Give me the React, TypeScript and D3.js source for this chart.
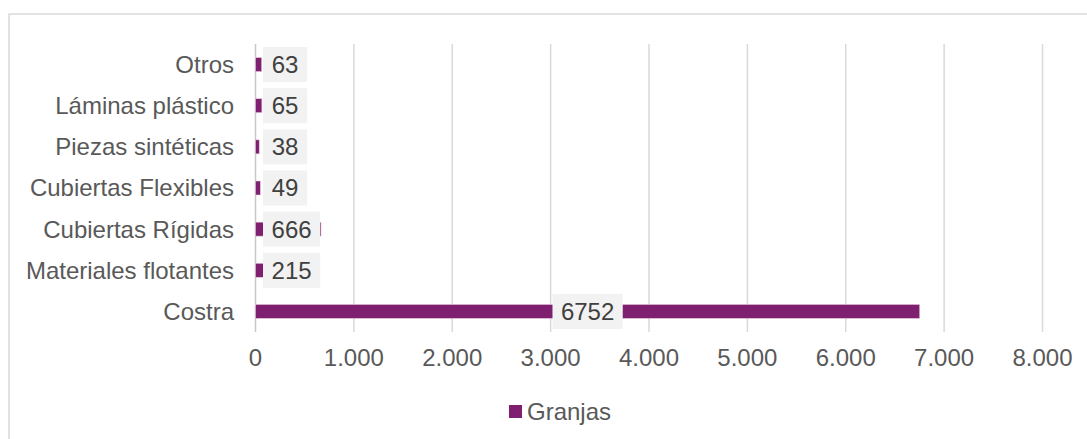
import React from 'react';
import * as d3 from 'd3';

const categories = ['Otros', 'Láminas plástico', 'Piezas sintéticas', 'Cubiertas Flexibles', 'Cubiertas Rígidas', 'Materiales flotantes', 'Costra'];
const values = [63, 65, 38, 49, 666, 215, 6752];
const ticks = [0, 1000, 2000, 3000, 4000, 5000, 6000, 7000, 8000];
const seriesName = 'Granjas';

const width = 1087;
const height = 439;
const font = 'Liberation Sans';
const fontSize = 24;
const purple = '#7E1F6F';
const textColor = '#595959';

const App = () => {
  const x = d3.scaleLinear().domain([0, 8000]).range([255.5, 1042.5]);
  const y = d3.scaleBand().domain(categories).range([44, 332]).paddingInner(0.66).paddingOuter(0.33);
  const fmt = (v: number) => d3.format(',d')(v).replace(/,/g, '.');
  const charW = 23.5 * 0.556;

  return (
    <svg width={width} height={height} style={{ position: 'absolute', left: 0, top: 0 }} fontFamily={font}>
      <rect x={0} y={0} width={width} height={height} fill="#fff" />
      <rect x={9} y={14} width={1200} height={600} fill="none" stroke="#d9d9d9" strokeWidth={1.5} />
      {ticks.map((t) => (
        <g key={t}>
          <line x1={x(t)} x2={x(t)} y1={44} y2={332} stroke={t === 0 ? '#c8c8c8' : '#d9d9d9'} strokeWidth={1.5} />
          <text x={x(t)} y={366} textAnchor="middle" fontFamily={font} fontSize={fontSize} fill={textColor}>{fmt(t)}</text>
        </g>
      ))}
      {categories.map((c, i) => {
        const cy = (y(c) as number) + y.bandwidth() / 2;
        const v = values[i];
        const label = String(v);
        const bw = label.length * charW + 18;
        const center = (x(0) + x(v)) / 2;
        const bx = Math.max(center - bw / 2, x(0) + 7.5);
        return (
          <g key={c}>
            <text x={234} y={cy} dy="0.35em" textAnchor="end" fontFamily={font} fontSize={fontSize} fill={textColor}>{c}</text>
            <rect x={x(0)} y={(y(c) as number)} width={x(v) - x(0)} height={y.bandwidth()} fill={purple} stroke="#e8c8e0" strokeWidth={0.6} />
            <rect x={bx} y={cy - 17.5} width={bw} height={35} fill="#f2f2f2" />
            <text x={bx + bw / 2} y={cy} dy="0.35em" textAnchor="middle" fontFamily={font} fontSize={fontSize} fill="#404040">{label}</text>
          </g>
        );
      })}
      <rect x={509} y={405} width={13} height={13} fill={purple} />
      <text x={527} y={411.5} dy="0.35em" fontFamily={font} fontSize={fontSize} fill={textColor}>{seriesName}</text>
    </svg>
  );
};

export default App;
